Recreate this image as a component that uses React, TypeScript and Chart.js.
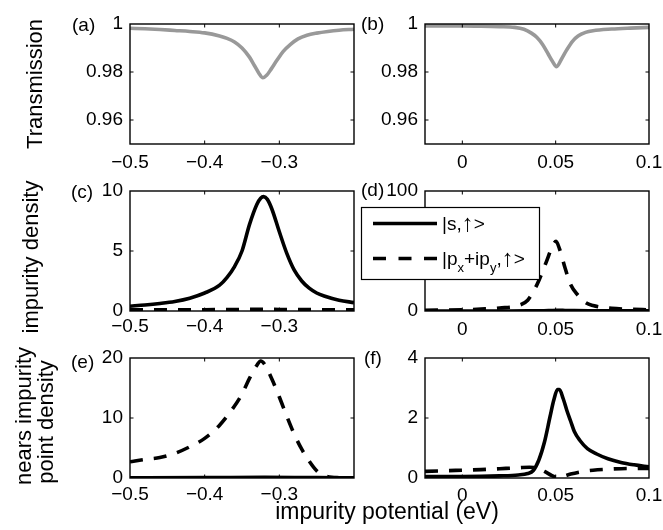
import { useEffect, useRef } from "react";
import { Chart, registerables } from "chart.js";
Chart.register(...registerables);

const W = 663;
const H = 530;
const FONT = '"Liberation Sans", Arial, Helvetica, sans-serif';
const YW = 45;
const XH = 30;
const TICK_SIZE = 19;

// ---- tick lists ----
const xTicksLeft = [-0.5, -0.4, -0.3];
const xTicksRight = [0, 0.05, 0.1];
const yTicksA = [0.96, 0.98, 1];
const yTicksC = [0, 5, 10];
const yTicksD = [0, 50, 100];
const yTicksE = [0, 10, 20];
const yTicksF = [0, 2, 4];

// ---- (a) transmission ----
const aX = [-0.5, -0.48, -0.46, -0.44, -0.42, -0.4, -0.38, -0.37, -0.36, -0.35, -0.34, -0.333, -0.327, -0.322, -0.317, -0.311, -0.303, -0.295, -0.285, -0.275, -0.263, -0.25, -0.235, -0.22, -0.2];
const aT = [0.9982, 0.998, 0.9977, 0.9973, 0.9969, 0.9963, 0.995, 0.994, 0.9925, 0.99, 0.9862, 0.9825, 0.9793, 0.9776, 0.9786, 0.9812, 0.985, 0.9885, 0.9915, 0.9938, 0.9953, 0.9962, 0.9969, 0.9974, 0.9978];

// ---- (b) transmission ----
const bX = [-0.02, 0, 0.01, 0.02, 0.028, 0.033, 0.037, 0.04, 0.043, 0.046, 0.048, 0.0505, 0.053, 0.056, 0.059, 0.062, 0.066, 0.07, 0.08, 0.09, 0.1];
const bT = [0.9992, 0.9992, 0.9991, 0.9989, 0.9986, 0.9978, 0.9962, 0.9944, 0.9915, 0.9875, 0.9848, 0.9822, 0.9852, 0.9893, 0.9928, 0.995, 0.9965, 0.9972, 0.9979, 0.9983, 0.9986];

// ---- (c) impurity density ----
const cX = [-0.5, -0.48, -0.46, -0.44, -0.42, -0.4, -0.38, -0.37, -0.36, -0.35, -0.34, -0.33, -0.325, -0.321, -0.316, -0.31, -0.3, -0.29, -0.28, -0.27, -0.26, -0.25, -0.24, -0.22, -0.2];
const cS = [0.4, 0.5, 0.63, 0.8, 1.07, 1.5, 2.15, 2.8, 3.7, 5.0, 7.2, 8.9, 9.4, 9.53, 9.3, 8.5, 6.6, 4.8, 3.4, 2.5, 1.9, 1.5, 1.25, 0.9, 0.7];
const cPX = [-0.5, -0.45, -0.4, -0.35, -0.32, -0.3, -0.25, -0.2];
const cP = [0.1, 0.1, 0.11, 0.13, 0.15, 0.13, 0.11, 0.1];

// ---- (d) impurity density ----
const dSX = [-0.02, 0, 0.02, 0.035, 0.042, 0.047, 0.051, 0.055, 0.06, 0.07, 0.08, 0.1];
const dS = [0.05, 0.05, 0.06, 0.08, 0.15, 0.35, 0.55, 0.45, 0.3, 0.2, 0.15, 0.12];
const dPX = [-0.02, 0, 0.01, 0.02, 0.03, 0.035, 0.04, 0.045, 0.048, 0.0502, 0.052, 0.055, 0.058, 0.062, 0.066, 0.07, 0.08, 0.09, 0.1];
const dP = [0.6, 1.0, 1.6, 2.5, 4.5, 9, 22, 41, 53, 58, 52, 36, 22, 13, 7, 4.5, 2.2, 1.4, 1.0];

// ---- (e) near-impurity point density ----
const eSX = [-0.5, -0.4, -0.32, -0.25, -0.2];
const eS = [0.05, 0.06, 0.1, 0.06, 0.05];
const eX = [-0.5, -0.48, -0.46, -0.44, -0.42, -0.4, -0.38, -0.36, -0.35, -0.34, -0.33, -0.325, -0.32, -0.31, -0.3, -0.29, -0.28, -0.27, -0.26, -0.25, -0.24, -0.23, -0.22, -0.2];
const eP = [2.7, 3.1, 3.4, 4.1, 5.2, 6.6, 8.8, 12.0, 14.0, 16.6, 18.8, 19.5, 19.0, 16.5, 13.5, 10.3, 7.3, 4.8, 2.8, 1.2, 0.4, 0.1, 0.05, 0.0];

// ---- (f) near-impurity point density ----
const fSX = [-0.02, 0, 0.02, 0.03, 0.035, 0.038, 0.041, 0.044, 0.047, 0.049, 0.051, 0.052, 0.054, 0.056, 0.058, 0.06, 0.063, 0.067, 0.072, 0.078, 0.085, 0.092, 0.1];
const fS = [0.05, 0.05, 0.07, 0.1, 0.15, 0.25, 0.6, 1.2, 2.05, 2.6, 2.95, 2.95, 2.65, 2.25, 1.9, 1.55, 1.25, 0.98, 0.8, 0.64, 0.52, 0.44, 0.37];
const fPX = [-0.02, -0.01, 0, 0.01, 0.02, 0.03, 0.036, 0.04, 0.044, 0.048, 0.051, 0.054, 0.058, 0.063, 0.07, 0.08, 0.09, 0.1];
const fP = [0.22, 0.24, 0.26, 0.28, 0.31, 0.34, 0.36, 0.33, 0.22, 0.08, 0.01, 0.05, 0.13, 0.2, 0.26, 0.3, 0.32, 0.32];

const panelTags = ["(a)", "(b)", "(c)", "(d)", "(e)", "(f)"];
const legendLabels = ["|s,\u2191>", "|p_x+ip_y,\u2191>"];
const yTitles = ["Transmission", "impurity density", "nears impurity", "point density"];
const xTitle = "impurity potential (eV)";

const DASH = [13, 11];
const pts = (xs: number[], ys: number[]) => xs.map((x, i) => ({ x, y: ys[i] }));
const solid = (xs: number[], ys: number[], color = "#000") => ({
  data: pts(xs, ys),
  borderColor: color,
  borderWidth: 3.6,
  pointRadius: 0,
  fill: false,
  cubicInterpolationMode: "monotone" as const,
});
const dashed = (xs: number[], ys: number[]) => ({ ...solid(xs, ys), borderDash: DASH });

const tickFmt = (v: number) => String(Number(Number(v).toFixed(3))).replace("-", "\u2212");

// draws a label, rendering "_x" as subscript and the arrow slightly larger
function drawRich(ctx: CanvasRenderingContext2D, text: string, x0: number, base: number) {
  const parts = text.split(/(_[a-z]|\u2191)/).filter((s) => s.length);
  let x = x0;
  for (const part of parts) {
    if (part.startsWith("_")) {
      ctx.font = `13px ${FONT}`;
      ctx.fillText(part.slice(1), x, base + 6.5);
      x += ctx.measureText(part.slice(1)).width;
    } else if (part === "\u2191") {
      ctx.font = `24px ${FONT}`;
      ctx.fillText(part, x, base + 1);
      x += ctx.measureText(part).width;
    } else {
      ctx.font = `19px ${FONT}`;
      ctx.fillText(part, x, base);
      x += ctx.measureText(part).width;
    }
  }
}

function drawLegend(ctx: CanvasRenderingContext2D) {
  const bx = 361, by = 207, bw = 178, bh = 72;
  ctx.save();
  ctx.fillStyle = "#fff";
  ctx.fillRect(bx, by, bw, bh);
  ctx.strokeStyle = "#000";
  ctx.lineWidth = 1.2;
  ctx.strokeRect(bx + 0.5, by + 0.5, bw, bh);
  ctx.lineWidth = 3.6;
  ctx.beginPath();
  ctx.moveTo(373, 223.5);
  ctx.lineTo(437, 223.5);
  ctx.stroke();
  ctx.setLineDash([13, 12.5]);
  ctx.beginPath();
  ctx.moveTo(373, 258.5);
  ctx.lineTo(437, 258.5);
  ctx.stroke();
  ctx.setLineDash([]);
  ctx.fillStyle = "#000";
  ctx.textAlign = "left";
  ctx.textBaseline = "alphabetic";
  drawRich(ctx, legendLabels[0], 442, 230);
  drawRich(ctx, legendLabels[1], 442, 265);
  ctx.restore();
}

function drawTitles(ctx: CanvasRenderingContext2D, which: string) {
  ctx.save();
  ctx.fillStyle = "#000";
  ctx.font = `22px ${FONT}`;
  ctx.textAlign = "center";
  ctx.textBaseline = "alphabetic";
  const rot = (text: string, x: number, y: number) => {
    ctx.save();
    ctx.translate(x, y);
    ctx.rotate(-Math.PI / 2);
    ctx.fillText(text, 0, 0);
    ctx.restore();
  };
  if (which === "a") rot(yTitles[0], 42, 84);
  if (which === "c") rot(yTitles[1], 38, 257);
  if (which === "e") {
    rot(yTitles[2], 31, 416);
    rot(yTitles[3], 53, 422);
  }
  if (which === "f") {
    ctx.font = `23px ${FONT}`;
    ctx.fillText(xTitle, 387, 519);
  }
  ctx.restore();
}

type PanelDef = {
  id: string;
  l: number; t: number; r: number; b: number;
  xMin: number; xMax: number; xTicks: number[];
  yMin: number; yMax: number; yTicks: number[];
  tag: string; tagX: number; tagY: number;
  xPad: number;
  datasets: any[];
};

const COLL = 130, COLR = 354, CORL = 425, CORR = 649;
const PANELS: PanelDef[] = [
  { id: "a", l: COLL, t: 24, r: COLR, b: 144, xMin: -0.5, xMax: -0.2, xTicks: xTicksLeft, yMin: 0.95, yMax: 1, yTicks: yTicksA, tag: panelTags[0], tagX: 72, tagY: 31, xPad: 8, datasets: [solid(aX, aT, "#999999")] },
  { id: "b", l: CORL, t: 24, r: CORR, b: 144, xMin: -0.02, xMax: 0.1, xTicks: xTicksRight, yMin: 0.95, yMax: 1, yTicks: yTicksA, tag: panelTags[1], tagX: 361, tagY: 30, xPad: 8, datasets: [solid(bX, bT, "#999999")] },
  { id: "c", l: COLL, t: 191, r: COLR, b: 311, xMin: -0.5, xMax: -0.2, xTicks: xTicksLeft, yMin: 0, yMax: 10, yTicks: yTicksC, tag: panelTags[2], tagX: 71, tagY: 198, xPad: 5, datasets: [solid(cX, cS), dashed(cPX, cP)] },
  { id: "d", l: CORL, t: 191, r: CORR, b: 311, xMin: -0.02, xMax: 0.1, xTicks: xTicksRight, yMin: 0, yMax: 100, yTicks: yTicksD, tag: panelTags[3], tagX: 361, tagY: 196, xPad: 8, datasets: [solid(dSX, dS), dashed(dPX, dP)] },
  { id: "e", l: COLL, t: 358, r: COLR, b: 478, xMin: -0.5, xMax: -0.2, xTicks: xTicksLeft, yMin: 0, yMax: 20, yTicks: yTicksE, tag: panelTags[4], tagX: 71, tagY: 368, xPad: 6, datasets: [solid(eSX, eS), dashed(eX, eP)] },
  { id: "f", l: CORL, t: 358, r: CORR, b: 478, xMin: -0.02, xMax: 0.1, xTicks: xTicksRight, yMin: 0, yMax: 4, yTicks: yTicksF, tag: panelTags[5], tagX: 364, tagY: 364, xPad: 7, datasets: [solid(fSX, fS), dashed(fPX, fP)] },
];

function makePlugin(p: PanelDef) {
  return {
    id: "panel_" + p.id,
    afterDraw(chart: any) {
      const ctx: CanvasRenderingContext2D = chart.ctx;
      const { left, right, top, bottom } = chart.chartArea;
      const xs = chart.scales.x;
      const ys = chart.scales.y;
      const TL = 3.5;
      ctx.save();
      ctx.strokeStyle = "#000";
      ctx.lineWidth = 1.4;
      ctx.strokeRect(left, top, right - left, bottom - top);
      ctx.lineWidth = 1;
      ctx.beginPath();
      for (const v of p.xTicks) {
        const px = xs.getPixelForValue(v);
        if (px <= left + 1 || px >= right - 1) continue;
        ctx.moveTo(px, bottom);
        ctx.lineTo(px, bottom - TL);
        ctx.moveTo(px, top);
        ctx.lineTo(px, top + TL);
      }
      for (const v of p.yTicks) {
        const py = ys.getPixelForValue(v);
        if (py <= top + 1 || py >= bottom - 1) continue;
        ctx.moveTo(left, py);
        ctx.lineTo(left + TL, py);
        ctx.moveTo(right, py);
        ctx.lineTo(right - TL, py);
      }
      ctx.stroke();
      ctx.fillStyle = "#000";
      ctx.font = `19px ${FONT}`;
      ctx.textAlign = "left";
      ctx.textBaseline = "alphabetic";
      ctx.fillText(p.tag, p.tagX, p.tagY);
      ctx.restore();
      drawTitles(ctx, p.id);
      if (p.id === "d") drawLegend(ctx);
    },
  };
}

function makeConfig(p: PanelDef): any {
  const tickFont = { family: FONT, size: TICK_SIZE };
  return {
    type: "line",
    data: { datasets: p.datasets },
    options: {
      responsive: false,
      animation: false,
      events: [],
      layout: { padding: { left: p.l - YW, top: p.t, right: W - p.r, bottom: H - p.b - XH } },
      plugins: { legend: { display: false }, tooltip: { enabled: false }, title: { display: false } },
      scales: {
        x: {
          type: "linear",
          min: p.xMin,
          max: p.xMax,
          grid: { display: false, drawTicks: false },
          border: { display: false },
          ticks: { font: tickFont, color: "#000", padding: p.xPad - 1, maxRotation: 0, autoSkip: false, callback: (v: number) => tickFmt(v) },
          afterBuildTicks: (s: any) => { s.ticks = p.xTicks.map((v) => ({ value: v })); },
          afterFit: (s: any) => { s.height = XH; s.paddingLeft = 0; s.paddingRight = 0; },
        },
        y: {
          type: "linear",
          min: p.yMin,
          max: p.yMax,
          grid: { display: false, drawTicks: false },
          border: { display: false },
          ticks: { font: tickFont, color: "#000", padding: 7, autoSkip: false, callback: (v: number) => tickFmt(v) },
          afterBuildTicks: (s: any) => { s.ticks = p.yTicks.map((v) => ({ value: v })); },
          afterFit: (s: any) => { s.width = YW; s.paddingTop = 0; s.paddingBottom = 0; },
        },
      },
    },
    plugins: [makePlugin(p)],
  };
}

export default function App() {
  const refs = useRef<(HTMLCanvasElement | null)[]>([]);
  useEffect(() => {
    const charts = PANELS.map((p, i) => new Chart(refs.current[i] as HTMLCanvasElement, makeConfig(p)));
    return () => charts.forEach((c) => c.destroy());
  }, []);
  return (
    <div style={{ position: "absolute", left: 0, top: 0, width: W, height: H, background: "#fff" }}>
      {PANELS.map((p, i) => (
        <canvas
          key={p.id}
          ref={(el) => { refs.current[i] = el; }}
          width={W}
          height={H}
          style={{ position: "absolute", left: 0, top: 0, width: W, height: H }}
        />
      ))}
    </div>
  );
}
